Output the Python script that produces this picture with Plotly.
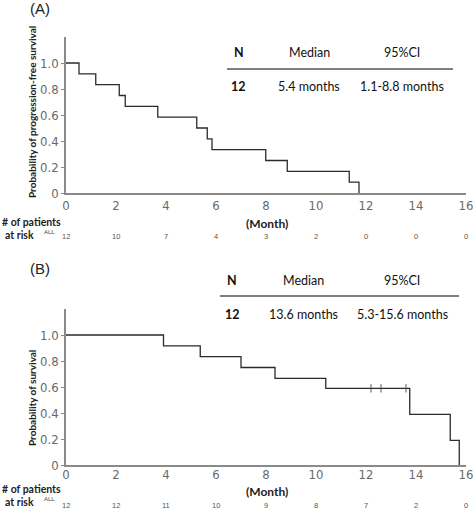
import plotly.graph_objects as go

# ---- data ----
pfs_months = [0, 0.52, 1.19, 2.13, 2.37, 3.67, 5.23, 5.65, 5.84, 7.99, 8.85, 11.33, 11.72]
pfs_prob = [1.0, 0.917, 0.833, 0.75, 0.667, 0.583, 0.5, 0.417, 0.333, 0.25, 0.167, 0.083, 0.0]

os_months = [0, 3.9, 5.37, 7.0, 8.36, 10.39, 13.75, 15.37, 15.73]
os_prob = [1.0, 0.917, 0.833, 0.75, 0.667, 0.59, 0.39, 0.19, 0.0]
os_censor_months = [12.2, 12.6, 13.6]
os_censor_prob = [0.59, 0.59, 0.59]

risk_months = [0, 2, 4, 6, 8, 10, 12, 14, 16]
pfs_at_risk = [12, 10, 7, 4, 3, 2, 0, 0, 0]
os_at_risk = [12, 12, 11, 10, 9, 8, 7, 2, 0]

x_ticks = [0, 2, 4, 6, 8, 10, 12, 14, 16]
y_ticks = [0, 0.2, 0.4, 0.6, 0.8, 1.0]
y_ticktext = ["0", "0.2", "0.4", "0.6", "0.8", "1.0"]

table_headers = ["N", "Median", "95%CI"]
pfs_row = ["12", "5.4 months", "1.1-8.8 months"]
os_row = ["12", "13.6 months", "5.3-15.6 months"]

W, H = 473, 511
def px(x):
    return x / W
def py(y):
    return 1 - y / H

LINE = "#2b2b2b"
AXIS = "#8a8a8a"
TICKF = dict(family="DejaVu Sans Condensed, Liberation Sans Narrow, Arial Narrow", size=13, color="#6a6a6a")
LBL = "Lato, Open Sans, sans-serif"

fig = go.Figure()
fig.add_trace(go.Scatter(x=pfs_months, y=pfs_prob, mode="lines", line=dict(shape="hv", color=LINE, width=1.3),
                         xaxis="x", yaxis="y", showlegend=False, hoverinfo="skip", cliponaxis=False))
fig.add_trace(go.Scatter(x=os_months, y=os_prob, mode="lines", line=dict(shape="hv", color=LINE, width=1.3),
                         xaxis="x2", yaxis="y2", showlegend=False, hoverinfo="skip", cliponaxis=False))
fig.add_trace(go.Scatter(x=os_censor_months, y=os_censor_prob, mode="markers",
                         marker=dict(symbol="line-ns", size=6, line=dict(color="#555", width=1)),
                         xaxis="x2", yaxis="y2", showlegend=False, hoverinfo="skip"))

xdom = [px(66), px(466)]
common_x = dict(range=[0, 16], tickvals=x_ticks, showgrid=False, zeroline=False, showline=True,
                linecolor=AXIS, linewidth=1.5, ticks="", tickfont=TICKF, fixedrange=True, automargin=False,
                ticklabeloverflow="allow")
common_y = dict(range=[0, 1.2], tickvals=y_ticks, ticktext=y_ticktext, showgrid=False, zeroline=False,
                showline=True, linecolor=AXIS, linewidth=1.5, ticks="outside", ticklen=3, tickcolor=AXIS,
                tickfont=TICKF, fixedrange=True, automargin=False, ticklabeloverflow="allow")

fig.update_layout(
    width=W, height=H, margin=dict(l=0, r=0, t=0, b=0, autoexpand=False),
    paper_bgcolor="white", plot_bgcolor="white",
    xaxis=dict(domain=xdom, anchor="y", **common_x),
    yaxis=dict(domain=[py(193), py(37)], anchor="x", **common_y),
    xaxis2=dict(domain=xdom, anchor="y2", ticklabelstandoff=-3, **common_x),
    yaxis2=dict(domain=[py(465), py(309)], anchor="x2", **common_y),
)

ann = []
def text(x, y, s, size=12, bold=False, color="#222", family=LBL, angle=0, xanchor="center", xref="paper"):
    ann.append(dict(x=x, y=py(y), xref=xref, yref="paper", text=("<b>%s</b>" % s) if bold else s,
                    showarrow=False, xanchor=xanchor, yanchor="middle", textangle=angle,
                    font=dict(family=family, size=size, color=color)))

# panel labels
text(px(28), 8, "(A)", size=15, family="Liberation Sans, Arial", color="#222", xanchor="left")
text(px(28), 268, "(B)", size=15, family="Liberation Sans, Arial", color="#222", xanchor="left")

# y titles
text(px(32), 112, "Probability of progression-free survival", size=10, bold=True, angle=-90)
text(px(32), 398, "Probability of survival", size=10, bold=True, angle=-90)

# x titles
text(px(267), 223, "(Month)", size=12, bold=True)
text(px(267), 491, "(Month)", size=12, bold=True)

# tables
colx_a = [239, 309, 402]
for cx, h, v in zip(colx_a, table_headers, pfs_row):
    text(px(cx), 52, h, size=12.5, bold=(h == "N"), color="#111")
    text(px(cx), 86, v, size=12.5, bold=(v == "12"), color="#111")
colx_b = [232, 303, 402]
for cx, h, v in zip(colx_b, table_headers, os_row):
    text(px(cx), 280, h, size=12.5, bold=(h == "N"), color="#111")
    text(px(cx), 314, v, size=12.5, bold=(v == "12"), color="#111")

shapes = [
    dict(type="line", xref="paper", yref="paper", x0=px(227), x1=px(453), y0=py(69), y1=py(69),
         line=dict(color="#808080", width=1.8)),
    dict(type="line", xref="paper", yref="paper", x0=px(220), x1=px(459), y0=py(296), y1=py(296),
         line=dict(color="#808080", width=1.8)),
]

# risk tables
for y1, y2, ya, yn, risk, xr in [(222, 235, 232, 237, pfs_at_risk, "x"), (489, 502, 499, 505, os_at_risk, "x2")]:
    text(px(0), y1, "# of patients", size=10.5, bold=True, xanchor="left")
    text(px(3), y2, "at risk", size=10.5, bold=True, xanchor="left")
    text(px(49), ya, "ALL", size=6, color="#444", family="Liberation Sans, Arial")
    for m, n in zip(risk_months, risk):
        ann.append(dict(x=m, y=py(yn), xref=xr, yref="paper", text=str(n), showarrow=False,
                        xanchor="center", yanchor="middle",
                        font=dict(family="Liberation Sans, Arial", size=7.5, color="#555")))

fig.update_layout(annotations=ann, shapes=shapes)
post = ("document.documentElement.style.margin='0';document.body.style.margin='0';"
        "document.body.style.padding='0';document.body.style.overflow='hidden';"
        "document.documentElement.style.overflow='hidden';")
fig.write_html("out.html", post_script=post, config={"displayModeBar": False})
